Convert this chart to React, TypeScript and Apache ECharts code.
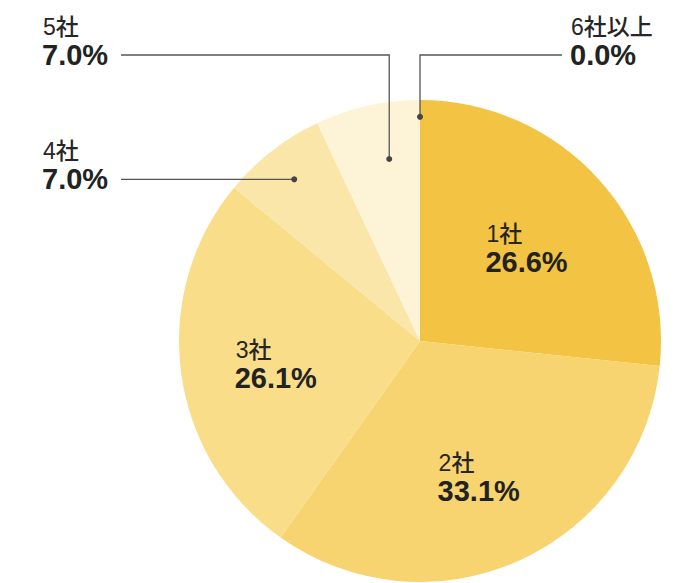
import React, { useEffect, useRef } from "react";
import * as echarts from "echarts";

const categories = ["1社", "2社", "3社", "4社", "5社", "6社以上"];
const shares = [26.6, 33.1, 26.1, 7.0, 7.0, 0.0];
const colors = ["#F3C443", "#F7D46F", "#F9DD89", "#FBE6AA", "#FDF4D8", "#FDF4D8"];

// layout (styles / positions, not data)
const CX = 420;
const CY = 341;
const R = 241;
const insideIdx = [0, 1, 2];
const outside = [
  { idx: 3, angleFrac: 0.5, rFrac: 0.85, elbowY: null as number | null, endX: 121, textX: 42 },
  { idx: 4, angleFrac: 0.62, rFrac: 0.766, elbowY: 55, endX: 121, textX: 42 },
  { idx: 5, angleFrac: 0, rFrac: 0.93, elbowY: 55, endX: 562, textX: 570 },
];

const FAMILY = "'Liberation Sans', 'Noto Sans CJK JP', sans-serif";

function sliceAngles() {
  const total = shares.reduce((a, b) => a + b, 0);
  const res: { start: number; end: number }[] = [];
  let acc = 0;
  shares.forEach((v) => {
    const start = (acc / total) * 360;
    acc += v;
    const end = (acc / total) * 360;
    res.push({ start, end });
  });
  return res;
}

function polar(angleDeg: number, r: number) {
  const a = (angleDeg * Math.PI) / 180;
  return [CX + r * Math.sin(a), CY - r * Math.cos(a)];
}

export default function App() {
  const ref = useRef<HTMLDivElement>(null);
  useEffect(() => {
    if (!ref.current) return;
    const chart = echarts.init(ref.current, undefined, { renderer: "svg" });
    const angles = sliceAngles();
    const graphics: any[] = [];

    const labelBlock = (x: number, pctCy: number, i: number) => {
      graphics.push({
        type: "text",
        silent: true,
        z: 100,
        style: {
          text: categories[i],
          x: x + 1,
          y: pctCy - 28,
          fontSize: 23,
          fontWeight: 500,
          fontFamily: FAMILY,
          fill: "#262626",
          align: "left",
          verticalAlign: "middle",
        },
      });
      graphics.push({
        type: "text",
        silent: true,
        z: 100,
        style: {
          text: shares[i].toFixed(1) + "%",
          x,
          y: pctCy,
          fontSize: 29,
          fontWeight: "bold",
          fontFamily: FAMILY,
          fill: "#222222",
          align: "left",
          verticalAlign: "middle",
        },
      });
    };

    insideIdx.forEach((i) => {
      const mid = (angles[i].start + angles[i].end) / 2;
      const [px, py] = polar(mid, R * 0.6);
      labelBlock(px - 42, py + 18, i);
    });

    outside.forEach((o) => {
      const ang = angles[o.idx].start + (angles[o.idx].end - angles[o.idx].start) * o.angleFrac;
      const [dx, dy] = polar(ang, R * o.rFrac);
      const pts: number[][] = [[dx, dy]];
      let lineY = dy;
      if (o.elbowY !== null) {
        pts.push([dx, o.elbowY]);
        lineY = o.elbowY;
      }
      pts.push([o.endX, lineY]);
      graphics.push({
        type: "polyline",
        silent: true,
        z: 100,
        shape: { points: pts },
        style: { stroke: "#555555", lineWidth: 1.3, fill: null },
      });
      graphics.push({
        type: "circle",
        silent: true,
        z: 101,
        shape: { cx: dx, cy: dy, r: 3 },
        style: { fill: "#444444" },
      });
      labelBlock(o.textX, lineY, o.idx);
    });

    chart.setOption({
      animation: false,
      series: [
        {
          type: "pie",
          center: [CX, CY],
          radius: [0, R],
          startAngle: 90,
          clockwise: true,
          silent: true,
          avoidLabelOverlap: false,
          label: { show: false },
          labelLine: { show: false },
          emphasis: { disabled: true },
          itemStyle: { borderWidth: 0 },
          z: 1,
          data: categories.map((c, i) => ({
            name: c,
            value: shares[i],
            itemStyle: { color: colors[i] },
          })),
        },
      ],
      graphic: graphics,
    });
    return () => chart.dispose();
  }, []);
  return (
    <div
      ref={ref}
      style={{ position: "absolute", left: 0, top: 0, width: 700, height: 583, background: "#ffffff" }}
    />
  );
}
